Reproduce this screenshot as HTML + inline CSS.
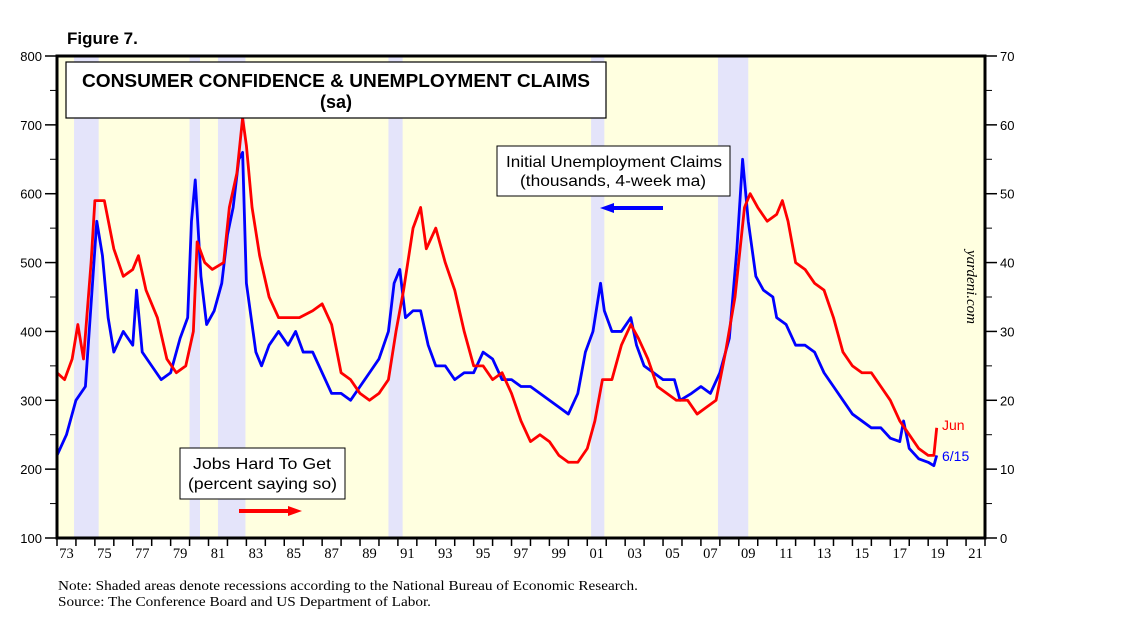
<!DOCTYPE html>
<html><head><meta charset="utf-8"><style>
body{margin:0;background:#fff;width:1138px;height:633px;overflow:hidden;font-family:"Liberation Sans",sans-serif}
svg{display:block}
</style></head><body>
<svg id="chart" width="1138" height="633" xmlns="http://www.w3.org/2000/svg">
<text x="67" y="44" font-size="17" font-weight="bold" font-family="Liberation Sans">Figure 7.</text>
<rect x="57" y="56" width="928" height="482" fill="#ffffe0"/>
<g id="rec"></g>
<g id="ticks"></g>
<g id="lines"></g>
<rect x="57" y="56" width="928" height="482" fill="none" stroke="#000" stroke-width="3"/>
<g>
<rect x="66" y="62" width="540" height="56" fill="#fff" stroke="#000" stroke-width="1.2"/>
<text x="82" y="87" font-size="18" font-weight="bold" textLength="508" lengthAdjust="spacingAndGlyphs">CONSUMER CONFIDENCE &amp; UNEMPLOYMENT CLAIMS</text>
<text x="336" y="108" font-size="18" font-weight="bold" text-anchor="middle">(sa)</text>
</g>
<g>
<rect x="497" y="146" width="233" height="50" fill="#fff" stroke="#000" stroke-width="1"/>
<text x="506" y="167" font-size="16" textLength="216" lengthAdjust="spacingAndGlyphs">Initial Unemployment Claims</text>
<text x="520" y="186" font-size="16" textLength="186" lengthAdjust="spacingAndGlyphs">(thousands, 4-week ma)</text>
<line x1="612" y1="208" x2="663" y2="208" stroke="#0000ff" stroke-width="4"/>
<polygon points="600,208 614,203 614,213" fill="#0000ff"/>
</g>
<g>
<rect x="180" y="448" width="165" height="51" fill="#fff" stroke="#000" stroke-width="1"/>
<text x="193" y="469" font-size="16" textLength="138" lengthAdjust="spacingAndGlyphs">Jobs Hard To Get</text>
<text x="188" y="489" font-size="16" textLength="149" lengthAdjust="spacingAndGlyphs">(percent saying so)</text>
<line x1="239" y1="511" x2="290" y2="511" stroke="#ff0000" stroke-width="4"/>
<polygon points="302,511 288,506 288,516" fill="#ff0000"/>
</g>
<text x="942" y="430" font-size="14" fill="#ff0000">Jun</text>
<text x="942" y="461" font-size="14" fill="#0000ff">6/15</text>
<text transform="translate(967,250) rotate(90)" font-size="15" font-style="italic" font-family="Liberation Serif">yardeni.com</text>
<text x="58" y="590" font-size="14" font-family="Liberation Serif" textLength="580" lengthAdjust="spacingAndGlyphs">Note: Shaded areas denote recessions according to the National Bureau of Economic Research.</text>
<text x="58" y="606" font-size="14" font-family="Liberation Serif" textLength="373" lengthAdjust="spacingAndGlyphs">Source: The Conference Board and US Department of Labor.</text>
</svg>
<script>
const recStart=[1973.9,1980.0,1981.5,1990.5,2001.2,2007.9];
const recEnd=[1975.2,1980.55,1982.95,1991.25,2001.9,2009.5];
const leftTicks=[100,200,300,400,500,600,700,800];
const rightTicks=[0,10,20,30,40,50,60,70];
const yearLabels=["73","75","77","79","81","83","85","87","89","91","93","95","97","99","01","03","05","07","09","11","13","15","17","19","21"];
const claimsX=[1973.0,1973.5,1974.0,1974.5,1974.9,1975.1,1975.4,1975.7,1976.0,1976.5,1977.0,1977.2,1977.5,1978.0,1978.5,1979.0,1979.5,1979.9,1980.1,1980.3,1980.6,1980.9,1981.3,1981.7,1982.0,1982.3,1982.6,1982.8,1983.0,1983.5,1983.8,1984.2,1984.7,1985.2,1985.6,1986.0,1986.5,1987.0,1987.5,1988.0,1988.5,1989.0,1989.5,1990.0,1990.5,1990.8,1991.1,1991.4,1991.8,1992.2,1992.6,1993.0,1993.5,1994.0,1994.5,1995.0,1995.5,1996.0,1996.5,1997.0,1997.5,1998.0,1998.5,1999.0,1999.5,2000.0,2000.5,2000.9,2001.3,2001.7,2001.9,2002.3,2002.8,2003.3,2003.6,2004.0,2004.5,2005.0,2005.6,2005.9,2006.5,2007.0,2007.5,2008.0,2008.5,2008.9,2009.2,2009.5,2009.9,2010.3,2010.8,2011.0,2011.5,2012.0,2012.5,2013.0,2013.5,2014.0,2014.5,2015.0,2015.5,2016.0,2016.5,2017.0,2017.5,2017.7,2018.0,2018.5,2019.0,2019.3,2019.45];
const claimsV=[220,250,300,320,480,560,510,420,370,400,380,460,370,350,330,340,390,420,560,620,480,410,430,470,540,580,650,660,470,370,350,380,400,380,400,370,370,340,310,310,300,320,340,360,400,470,490,420,430,430,380,350,350,330,340,340,370,360,330,330,320,320,310,300,290,280,310,370,400,470,430,400,400,420,380,350,340,330,330,300,310,320,310,340,390,520,650,560,480,460,450,420,410,380,380,370,340,320,300,280,270,260,260,245,240,270,230,215,210,205,220];
const jobsX=[1973.0,1973.4,1973.8,1974.1,1974.4,1974.8,1975.0,1975.5,1976.0,1976.5,1977.0,1977.3,1977.7,1978.3,1978.8,1979.3,1979.8,1980.2,1980.4,1980.8,1981.2,1981.8,1982.1,1982.5,1982.8,1983.0,1983.3,1983.7,1984.2,1984.7,1985.2,1985.8,1986.5,1987.0,1987.5,1988.0,1988.5,1989.0,1989.5,1990.0,1990.5,1990.9,1991.3,1991.8,1992.2,1992.5,1993.0,1993.5,1994.0,1994.5,1995.0,1995.5,1996.0,1996.5,1997.0,1997.5,1998.0,1998.5,1999.0,1999.5,2000.0,2000.5,2001.0,2001.4,2001.8,2002.3,2002.8,2003.3,2003.7,2004.2,2004.7,2005.2,2005.7,2006.3,2006.8,2007.3,2007.8,2008.3,2008.8,2009.3,2009.6,2010.0,2010.5,2011.0,2011.3,2011.6,2012.0,2012.5,2013.0,2013.5,2014.0,2014.5,2015.0,2015.5,2016.0,2016.5,2017.0,2017.5,2018.0,2018.5,2019.0,2019.3,2019.45];
const jobsV=[24,23,26,31,26,40,49,49,42,38,39,41,36,32,26,24,25,30,43,40,39,40,48,53,61,57,48,41,35,32,32,32,33,34,31,24,23,21,20,21,23,30,36,45,48,42,45,40,36,30,25,25,23,24,21,17,14,15,14,12,11,11,13,17,23,23,28,31,29,26,22,21,20,20,18,19,20,27,35,48,50,48,46,47,49,46,40,39,37,36,32,27,25,24,24,22,20,17,15,13,12,12,16];
const NS="http://www.w3.org/2000/svg";
const X0=57,X1=985,Y0=538,Y1=56;
const xs=y=>X0+(y-1973)*(X1-X0)/49;
const yl=v=>Y0-(v-100)*(Y0-Y1)/700;
const yr=v=>Y0-v*(Y0-Y1)/70;
function mk(tag,attrs,parent){const e=document.createElementNS(NS,tag);for(const k in attrs)e.setAttribute(k,attrs[k]);parent.appendChild(e);return e;}
const rec=document.getElementById('rec');
recStart.forEach((s,i)=>{const r=mk('rect',{x:xs(s),y:Y1,width:xs(recEnd[i])-xs(s),height:Y0-Y1,fill:'#e4e4fa'},rec);

});
const tk=document.getElementById('ticks');
leftTicks.forEach(v=>{const y=yl(v);mk('line',{x1:45,x2:57,y1:y,y2:y,stroke:'#000','stroke-width':1.5},tk);
const t=mk('text',{x:42,y:y+5,'font-size':13,'text-anchor':'end'},tk);t.textContent=v;


if(v<800){const m=yl(v+50);mk('line',{x1:50,x2:57,y1:m,y2:m,stroke:'#000','stroke-width':1},tk);}});
rightTicks.forEach(v=>{const y=yr(v);mk('line',{x1:985,x2:997,y1:y,y2:y,stroke:'#000','stroke-width':1.5},tk);
const t=mk('text',{x:1000,y:y+5,'font-size':13},tk);t.textContent=v;


if(v<70){const m=yr(v+5);mk('line',{x1:985,x2:992,y1:m,y2:m,stroke:'#000','stroke-width':1},tk);}});
for(let y=1973;y<=2022;y++){const x=xs(y);mk('line',{x1:x,x2:x,y1:538,y2:546,stroke:'#000','stroke-width':1.5},tk);}
yearLabels.forEach((l,i)=>{const t=mk('text',{x:xs(1973+2*i+0.5),y:558,'font-size':14.5,'text-anchor':'middle','font-family':'Liberation Serif'},tk);t.textContent=l;

});
const ln=document.getElementById('lines');
const pb=mk('polyline',{points:claimsX.map((x,i)=>xs(x)+','+yl(claimsV[i])).join(' '),fill:'none',stroke:'#0000ff','stroke-width':2.8,'stroke-linejoin':'round'},ln);


const pr=mk('polyline',{points:jobsX.map((x,i)=>xs(x)+','+yr(jobsV[i])).join(' '),fill:'none',stroke:'#ff0000','stroke-width':2.8,'stroke-linejoin':'round'},ln);


</script>
</body></html>
